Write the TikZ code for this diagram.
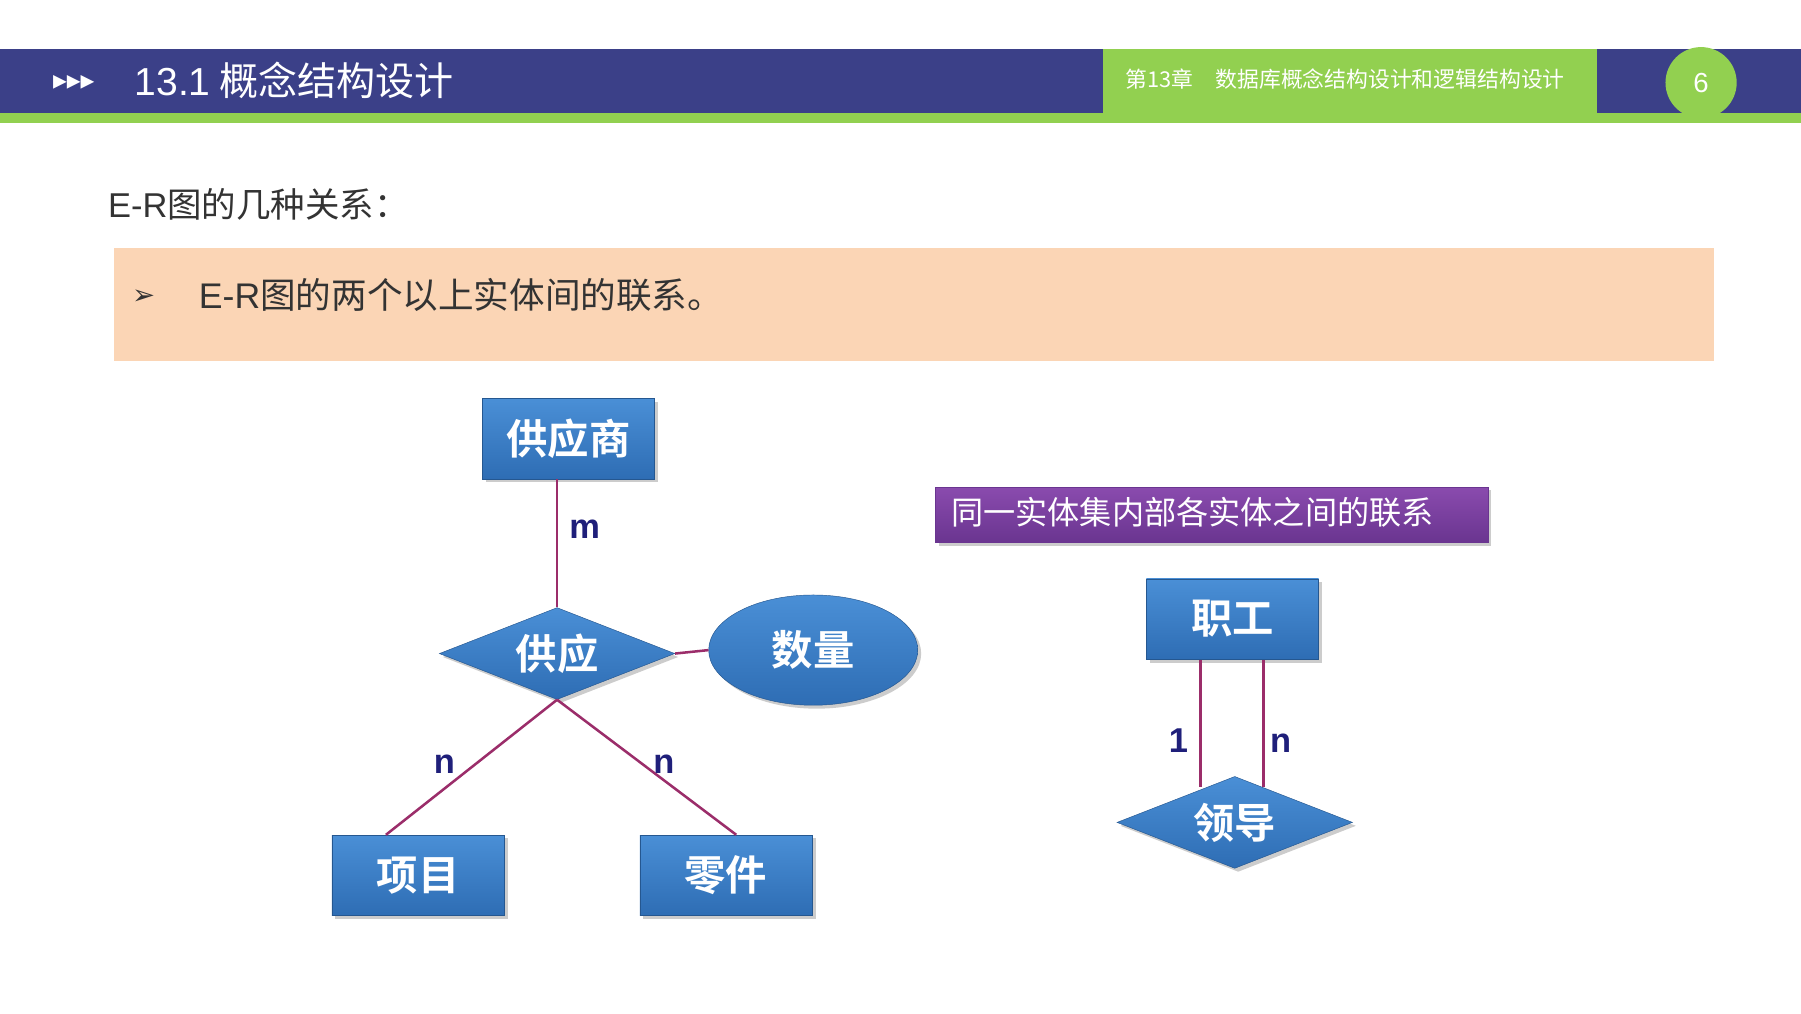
\documentclass[tikz,border=0pt]{standalone}
\usepackage{fontspec}
\setmainfont{Noto Sans CJK SC}[BoldFont={Noto Sans CJK SC Bold}]
\newfontfamily\arial{Liberation Sans}
\newfontfamily\sym{DejaVu Sans}
\usetikzlibrary{shapes.geometric,shadows}
\definecolor{navy}{HTML}{3B4088}
\definecolor{lgreen}{HTML}{92D050}
\definecolor{peach}{HTML}{FBD5B5}
\definecolor{eblue}{HTML}{2E6DB4}
\definecolor{eblue2}{HTML}{4A8FD6}
\definecolor{maroon}{HTML}{9B2D6A}
\definecolor{lab}{HTML}{1F1F7A}
\definecolor{pur1}{HTML}{8A4BAE}
\definecolor{pur2}{HTML}{6A3590}
\begin{document}
\begin{tikzpicture}[x=1pt,y=-1pt,
 ent/.style={rectangle,minimum width=150pt,minimum height=70pt,top color=eblue2,bottom color=eblue,draw=eblue!80!black,
   drop shadow={shadow xshift=3pt,shadow yshift=-3pt,opacity=0.4},text=white,font=\bfseries\fontsize{36}{40}\selectfont},
 rel/.style={diamond,aspect=2.6,minimum width=205pt,minimum height=80pt,inner sep=0pt,top color=eblue2,bottom color=eblue,draw=eblue!80!black,
   drop shadow={shadow xshift=3pt,shadow yshift=-3pt,opacity=0.4},text=white,font=\bfseries\fontsize{36}{40}\selectfont},
 link/.style={maroon,line width=2.2pt},
 lbl/.style={text=lab,font=\arial\bfseries\fontsize{30}{32}\selectfont}]
\useasboundingbox (0,0) rectangle (1568,882);
\fill[white] (0,0) rectangle (1568,882);
% header
\fill[lgreen] (0,98) rectangle (1568,107);
\fill[navy] (0,43) rectangle (1568,98);
\fill[lgreen] (960,43) rectangle (1390,107);
\node[circle,fill=lgreen,minimum size=62pt,inner sep=0pt,text=white,font=\arial\fontsize{24}{26}\selectfont] (pg) at (1481,72) {6};
\node[anchor=west,text=white,inner sep=0pt,font=\sym\fontsize{24}{26}\selectfont] (tri) at (46,72) {▸▸▸};
\node[anchor=west,text=white,inner sep=0pt,font=\fontsize{34}{38}\selectfont] (title) at (117,70) {{\arial 13.1} 概念结构设计};
\node[anchor=west,text=white,inner sep=0pt,font=\fontsize{19}{21}\selectfont] (chap) at (980,69) {第13章\quad 数据库概念结构设计和逻辑结构设计};
% intro
\node[anchor=west,text=black!80,inner sep=0pt,font=\fontsize{30}{34}\selectfont] (intro) at (94,178) {{\arial E-R}图的几种关系：};
\fill[peach] (99,216) rectangle (1492,314);
\node[text=black!80,inner sep=0pt,font=\sym\fontsize{24}{26}\selectfont] (bul) at (125,259) {➢};
\node[anchor=west,text=black!80,inner sep=0pt,font=\fontsize{31}{34}\selectfont] (bt) at (173,257) {{\arial E-R}图的两个以上实体间的联系。};
% left diagram
\node[ent] (gys) at (495,382) {供应商};
\node[rel] (gy) at (485,569) {供应};
\node[ellipse,minimum width=182pt,minimum height=96pt,top color=eblue2,bottom color=eblue,draw=eblue!80!black,
   drop shadow={shadow xshift=3pt,shadow yshift=-3pt,opacity=0.4},text=white,font=\bfseries\fontsize{36}{40}\selectfont] (sl) at (708,566) {数量};
\node[ent] (xm) at (364,762) {项目};
\node[ent] (lj) at (632,762) {零件};
\draw[link] (gys.south -| gy.north) -- (gy.north);
\draw[link] (gy.east) -- (sl.west);
\draw[link] (gy.south) -- (xm.north -| 336,0);
\draw[link] (gy.south) -- (lj.north -| 641,0);
\node[lbl] (m) at (509,461) {m};
\node[lbl] (n1) at (387,665) {n};
\node[lbl] (n2) at (578,665) {n};
% right diagram
\node[rectangle,minimum width=481pt,minimum height=48pt,top color=pur1,bottom color=pur2,draw=pur2,
   drop shadow={shadow xshift=3pt,shadow yshift=-3pt,opacity=0.4}] (pb) at (1055,448) {};
\node[anchor=west,text=white,inner sep=0pt,font=\fontsize{28}{30}\selectfont] (pbt) at (828,446) {同一实体集内部各实体之间的联系};
\node[ent] (zg) at (1073,539) {职工};
\node[rel] (ld) at (1075,716) {领导};
\draw[link] (zg.south -| 1045,0) -- (1045,685);
\draw[link] (zg.south -| 1100,0) -- (1100,685);
\node[lbl] (one) at (1026,645) {1};
\node[lbl] (n3) at (1115,647) {n};
\end{tikzpicture}
\end{document}
